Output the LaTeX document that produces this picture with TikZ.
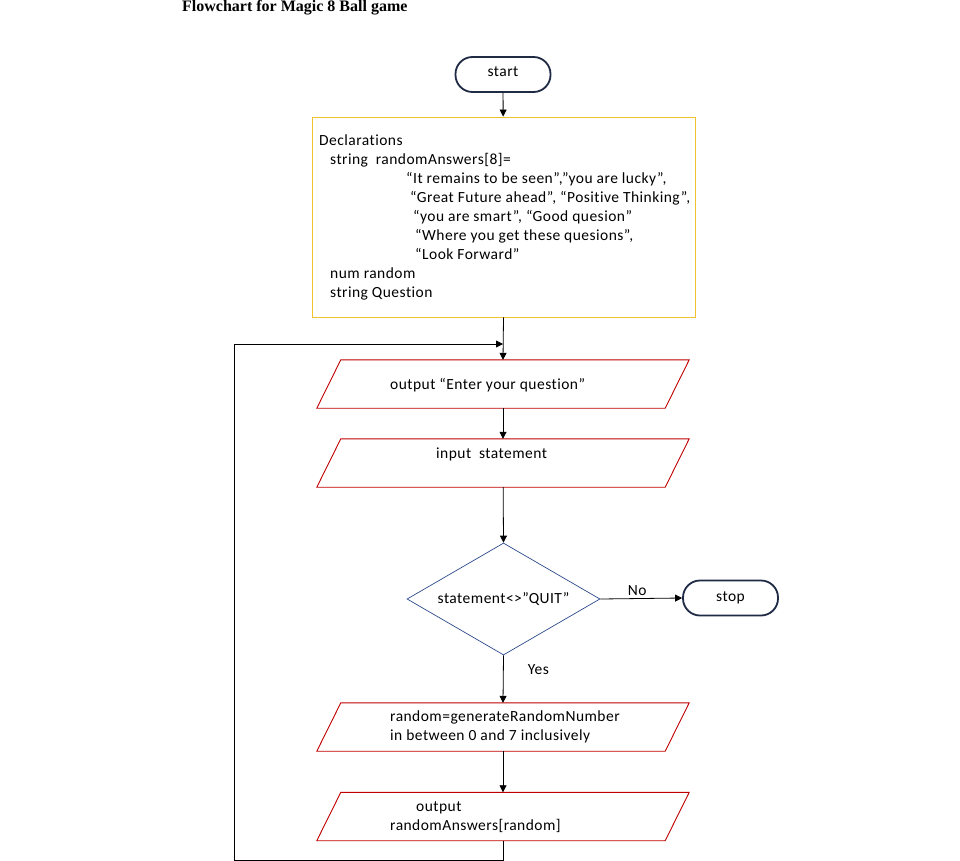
\documentclass[tikz,border=0pt]{standalone}
\usepackage{fontspec}
\setmainfont{Carlito}[LetterSpace=3,Ligatures=NoCommon]
\newfontfamily\titlefont{Liberation Serif}
\usetikzlibrary{arrows.meta,shapes.geometric}
\definecolor{ioRed}{HTML}{C00000}
\definecolor{termNavy}{HTML}{1F2A44}
\definecolor{decBlue}{HTML}{2E4A8C}
\definecolor{declYellow}{HTML}{F2C12E}
\tikzset{
  x=1pt,y=-1pt,
  every node/.style={font=\fontsize{15.5}{19}\selectfont, inner sep=0pt},
  term/.style={draw=termNavy, line width=1.8pt, rounded corners=17pt, minimum width=95pt, minimum height=35pt},
  declbox/.style={draw=declYellow, line width=0.9pt, minimum width=383pt, minimum height=200pt},
  iobox/.style={minimum width=348pt, minimum height=48pt},
  ioline/.style={draw=ioRed, line width=0.9pt},
  decision/.style={draw=decBlue, line width=0.7pt, diamond, aspect=1.7, minimum width=193pt, minimum height=112pt},
  flow/.style={draw=black, line width=0.8pt, -{Triangle[length=7pt,width=7pt]}},
  plain/.style={draw=black, line width=0.8pt},
}
\newcommand{\iodraw}[1]{\draw[ioline] ([xshift=12pt]#1.north west) -- ([xshift=12pt]#1.north east) -- ([xshift=-12pt]#1.south east) -- ([xshift=-12pt]#1.south west) -- cycle;}
\begin{document}
\begin{tikzpicture}
\useasboundingbox (0,0) rectangle (960,861);
\fill[white] (0,0) rectangle (960,861);

\node[anchor=west, font=\titlefont\bfseries\fontsize{16}{18}\selectfont] (title) at (182,7.5) {Flowchart for Magic 8 Ball game};

\node[term] (start) at (503,74.5) {\raisebox{5pt}{start}};

\node[declbox] (decl) at (503.5,217) {};
\node[anchor=north west, align=left] (decltext) at (319,135) {Declarations\\
\hspace*{11pt}string\ \ randomAnswers[8]=\\
\hspace*{87pt}“It remains to be seen”,”you are lucky”,\\
\hspace*{91pt}“Great Future ahead”, “Positive Thinking”,\\
\hspace*{94pt}“you are smart”, “Good quesion”\\
\hspace*{96pt}“Where you get these quesions”,\\
\hspace*{96pt}“Look Forward”\\
\hspace*{11pt}num random\\
\hspace*{11pt}string Question};

\node[iobox] (out1) at (503,384) {};
\iodraw{out1}
\node[anchor=west] (out1t) at (390,385) {output “Enter your question”};

\node[iobox] (inp) at (503,463) {};
\iodraw{inp}
\node[anchor=west] (inpt) at (436,454) {input\ \ statement};

\node[decision] (dec) at (503.5,599) {\raisebox{-1pt}{statement<>”QUIT”}};

\node[term] (stop) at (730.5,598) {\raisebox{-2pt}{stop}};

\node[iobox] (gen) at (503,727) {};
\iodraw{gen}
\node[anchor=north west, align=left] (gent) at (390,711) {random=generateRandomNumber\\in between 0 and 7 inclusively};

\node[iobox] (out2) at (503,816.5) {};
\iodraw{out2}
\node[anchor=north west, align=left] (out2t) at (390,801) {\hspace*{26pt}output\\randomAnswers[random]};

\coordinate (lb) at (234,860);
\coordinate (lt) at (234,344);
\coordinate (mj) at (503,344);

\draw[flow] (start) -- (decl);
\draw[flow] (decl.south) -- (out1.north);
\draw[flow] (out1) -- (inp);
\draw[flow] (inp) -- (dec.north);
\draw[flow] (dec.east) -- node[above=3pt, pos=0.45] (nolab) {No} (stop.west);
\draw[flow] (dec.south) -- node[right=24pt, pos=0.3] (yeslab) {Yes} (gen.north);
\draw[flow] (gen) -- (out2);
\draw[flow] (out2.south) |- (lb) -- (lt) -- (mj);
\end{tikzpicture}
\end{document}
